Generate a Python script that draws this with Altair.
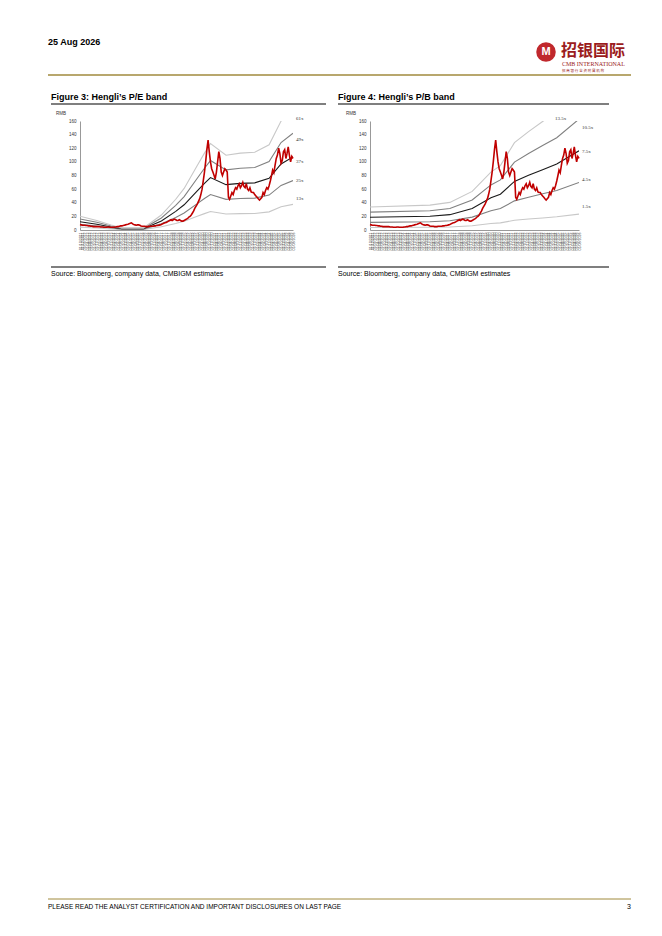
import pandas as pd
import altair as alt

# monthly share price (RMB), Oct-2011 .. Aug-2026
price_2011 = [8, 7.5, 7]
price_2012 = [7, 7, 6.5, 6.5, 6, 6, 5.5, 5.5, 5, 5, 5, 5]
price_2013 = [5, 5, 4.5, 4.5, 4.5, 4, 4, 4, 4.5, 4.5, 4, 4]
price_2014 = [4, 4, 4.5, 4.5, 5, 5, 5.5, 6, 6, 6.5, 7, 7.5]
price_2015 = [8, 8.5, 9, 10, 10.5, 9, 8, 7.5, 7, 7.5, 7.5, 7]
price_2016 = [6, 5.5, 5.5, 5.5, 5, 5, 5, 5.5, 5.5, 5.5, 5.5, 6]
price_2017 = [6, 6.5, 6.5, 7, 7.5, 8, 9, 10, 10.5, 11, 12, 13]
price_2018 = [14, 15, 14, 15, 16, 15, 14, 14, 15, 14, 13, 13]
price_2019 = [14, 15, 16, 17, 19, 20, 22, 25, 28, 32, 35, 38]
price_2020 = [42, 46, 52, 60, 72, 85, 100, 118, 132, 115, 100, 90]
price_2021 = [85, 80, 75, 85, 100, 115, 105, 85, 80, 85, 90, 88]
price_2022 = [85, 48, 45, 50, 55, 52, 58, 62, 60, 65, 68, 62]
price_2023 = [65, 70, 64, 62, 68, 60, 58, 62, 56, 55, 55, 52]
price_2024 = [50, 48, 46, 44, 46, 48, 55, 52, 58, 62, 60, 65]
price_2025 = [72, 80, 88, 84, 95, 105, 110, 120, 112, 98, 102, 115]
price_2026 = [118, 105, 112, 122, 110, 100, 108, 105]

price = (price_2011 + price_2012 + price_2013 + price_2014 + price_2015 + price_2016
         + price_2017 + price_2018 + price_2019 + price_2020 + price_2021 + price_2022
         + price_2023 + price_2024 + price_2025 + price_2026)
price_dates = pd.date_range("2011-10-01", periods=len(price), freq="MS")

# P/E band: forward EPS and multiples
pe_dates = ["2011-10-01", "2012-12-01", "2013-12-01", "2014-09-01", "2016-03-01", "2017-06-01",
            "2018-06-01", "2019-01-01", "2019-12-01", "2020-06-01", "2020-11-01", "2021-12-01",
            "2022-12-01", "2023-12-01", "2024-12-01", "2025-10-01", "2026-08-01"]
pe_eps = [0.33, 0.23, 0.12, 0.05, 0.05, 0.36, 0.74, 1.0, 1.55, 1.85, 2.08, 1.80,
          1.85, 1.87, 2.05, 2.62, 2.9]
pe_multiples = [13, 25, 37, 49, 61]
pe_labels = ["13x", "25x", "37x", "49x", "61x"]
pe_label_y = [47, 73, 101, 134, 164]
pe_label_x = ["2026-08-01"] * 5

# P/B band: BVPS and multiples
pb_dates = ["2011-10-01", "2016-01-01", "2017-06-01", "2019-01-01", "2020-05-01", "2021-01-01",
            "2022-01-01", "2023-01-01", "2024-01-01", "2025-01-01", "2026-08-01"]
pb_bvps = [2.5, 2.7, 3.0, 4.2, 6.3, 7.0, 9.5, 10.7, 11.8, 12.9, 15.5]
pb_multiples = [1.5, 4.5, 7.5, 10.5, 13.5]
pb_labels = ["1.5x", "4.5x", "7.5x", "10.5x", "13.5x"]
pb_label_y = [35, 75, 116, 151, 164]
pb_label_x = ["2026-08-01"] * 4 + ["2024-09-01"]

band_colors = ["#c8c8c8", "#808080", "#1a1a1a", "#808080", "#c8c8c8"]
ticks = [int(t.value // 10**6) for t in pd.date_range("2011-10-01", "2026-08-01", freq="2MS")]
FONT = "Liberation Sans"


def txt(s, x, y, size=7, bold=False, color="black", align="left", baseline="middle", font=FONT):
    return alt.Chart(pd.DataFrame({"t": [s]})).mark_text(
        align=align, baseline=baseline, fontSize=size, font=font,
        fontWeight="bold" if bold else "normal", color=color
    ).encode(x=alt.value(x), y=alt.value(y), text="t:N")


def rule(x1, x2, y, color="black", w=1.0):
    return alt.Chart(pd.DataFrame({"t": [0]})).mark_rule(color=color, strokeWidth=w).encode(
        x=alt.value(x1), x2=alt.value(x2), y=alt.value(y))


def panel(title, dates, base, mults, labels, label_y, label_x, width, left, right):
    rows = []
    for m, lab in zip(mults, labels):
        for d, b in zip(dates, base):
            rows.append({"date": d, "value": b * m, "band": lab})
    bands = pd.DataFrame(rows)
    xs = alt.X("date:T", title=None, scale=alt.Scale(domain=["2011-10-01", "2026-08-01"]),
               axis=alt.Axis(values=ticks, format="%d/%m/%Y", labelAngle=270, labelFontSize=3.6,
                             labelOverlap=False, labelBound=False, labelFlush=False,
                             labelAlign="right", labelBaseline="middle",
                             labelColor="#444", ticks=False, grid=False,
                             domainColor="#999", labelPadding=2))
    ys = alt.Y("value:Q", title=None, scale=alt.Scale(domain=[0, 160], nice=False),
               axis=alt.Axis(values=list(range(0, 161, 20)), labelFontSize=4.5, labelColor="#333",
                             labelOverlap=False, ticks=False, grid=False, domainColor="#999",
                             labelPadding=4))
    band_layer = alt.Chart(bands).mark_line(strokeWidth=1.1, clip=True).encode(
        x=xs, y=ys,
        color=alt.Color("band:N", scale=alt.Scale(domain=labels, range=band_colors), legend=None))
    price_layer = alt.Chart(pd.DataFrame({"date": price_dates, "value": price})).mark_line(
        color="#c00000", strokeWidth=1.6).encode(x=xs, y=ys)
    lab_layer = alt.Chart(pd.DataFrame({"date": label_x, "value": label_y, "lab": labels})).mark_text(
        align="left", dx=3, fontSize=5, font="Liberation Serif", color="#333").encode(
        x=xs, y=ys, text="lab:N")
    h = 109
    return alt.layer(
        band_layer, price_layer, lab_layer,
        txt("RMB", -24, -7, size=4.5, color="#333"),
        txt(title, left, -24, size=9, bold=True),
        rule(left, right, -17, w=1.2),
        rule(left, right, h + 37, w=1.2),
        txt("Source: Bloomberg, company data, CMBIGM estimates", left, h + 44, size=7),
    ).properties(width=width, height=h)


p3 = panel("Figure 3: Hengli\u2019s P/E band", pe_dates, pe_eps, pe_multiples, pe_labels,
           pe_label_y, pe_label_x, 213, -29, 246)
p3 = alt.layer(
    p3,
    txt("25 Aug 2026", -32, -83, size=9, bold=True, baseline="top"),
    rule(-32, 551, -46, color="#a08a3c", w=1.5),
    alt.Chart(pd.DataFrame({"t": [0]})).mark_point(filled=True, color="#c0282d", size=380, opacity=1).encode(
        x=alt.value(466), y=alt.value(-69)),
    txt("M", 466, -69, size=11, bold=True, color="white", align="center"),
    txt("招银国际", 481, -70, size=16, bold=True, color="#9b1c20", font="Noto Sans CJK SC"),
    txt("CMB INTERNATIONAL", 482, -57, size=6, color="#9b1c20", font="Liberation Serif"),
    txt("招 商 银 行 全 资 附 属 机 构", 482, -50, size=3.5, color="#9b1c20", font="Noto Sans CJK SC"),
    rule(-32, 551, 778, color="#a08a3c", w=1),
    txt("PLEASE READ THE ANALYST CERTIFICATION AND IMPORTANT DISCLOSURES ON LAST PAGE", -32, 786, size=6.5),
    txt("3", 551, 786, size=7, align="right"),
)

p4 = panel("Figure 4: Hengli\u2019s P/B band", pb_dates, pb_bvps, pb_multiples, pb_labels,
           pb_label_y, pb_label_x, 209, -32, 239)

chart = alt.hconcat(p3, p4, spacing=77, bounds="flush").properties(
    padding={"left": 39, "top": 30, "right": 5, "bottom": 5}, background="white"
).configure_view(stroke=None).configure_axis(labelOverlap=False)

chart.save("out.html", embed_options={"renderer": "svg", "actions": False})
